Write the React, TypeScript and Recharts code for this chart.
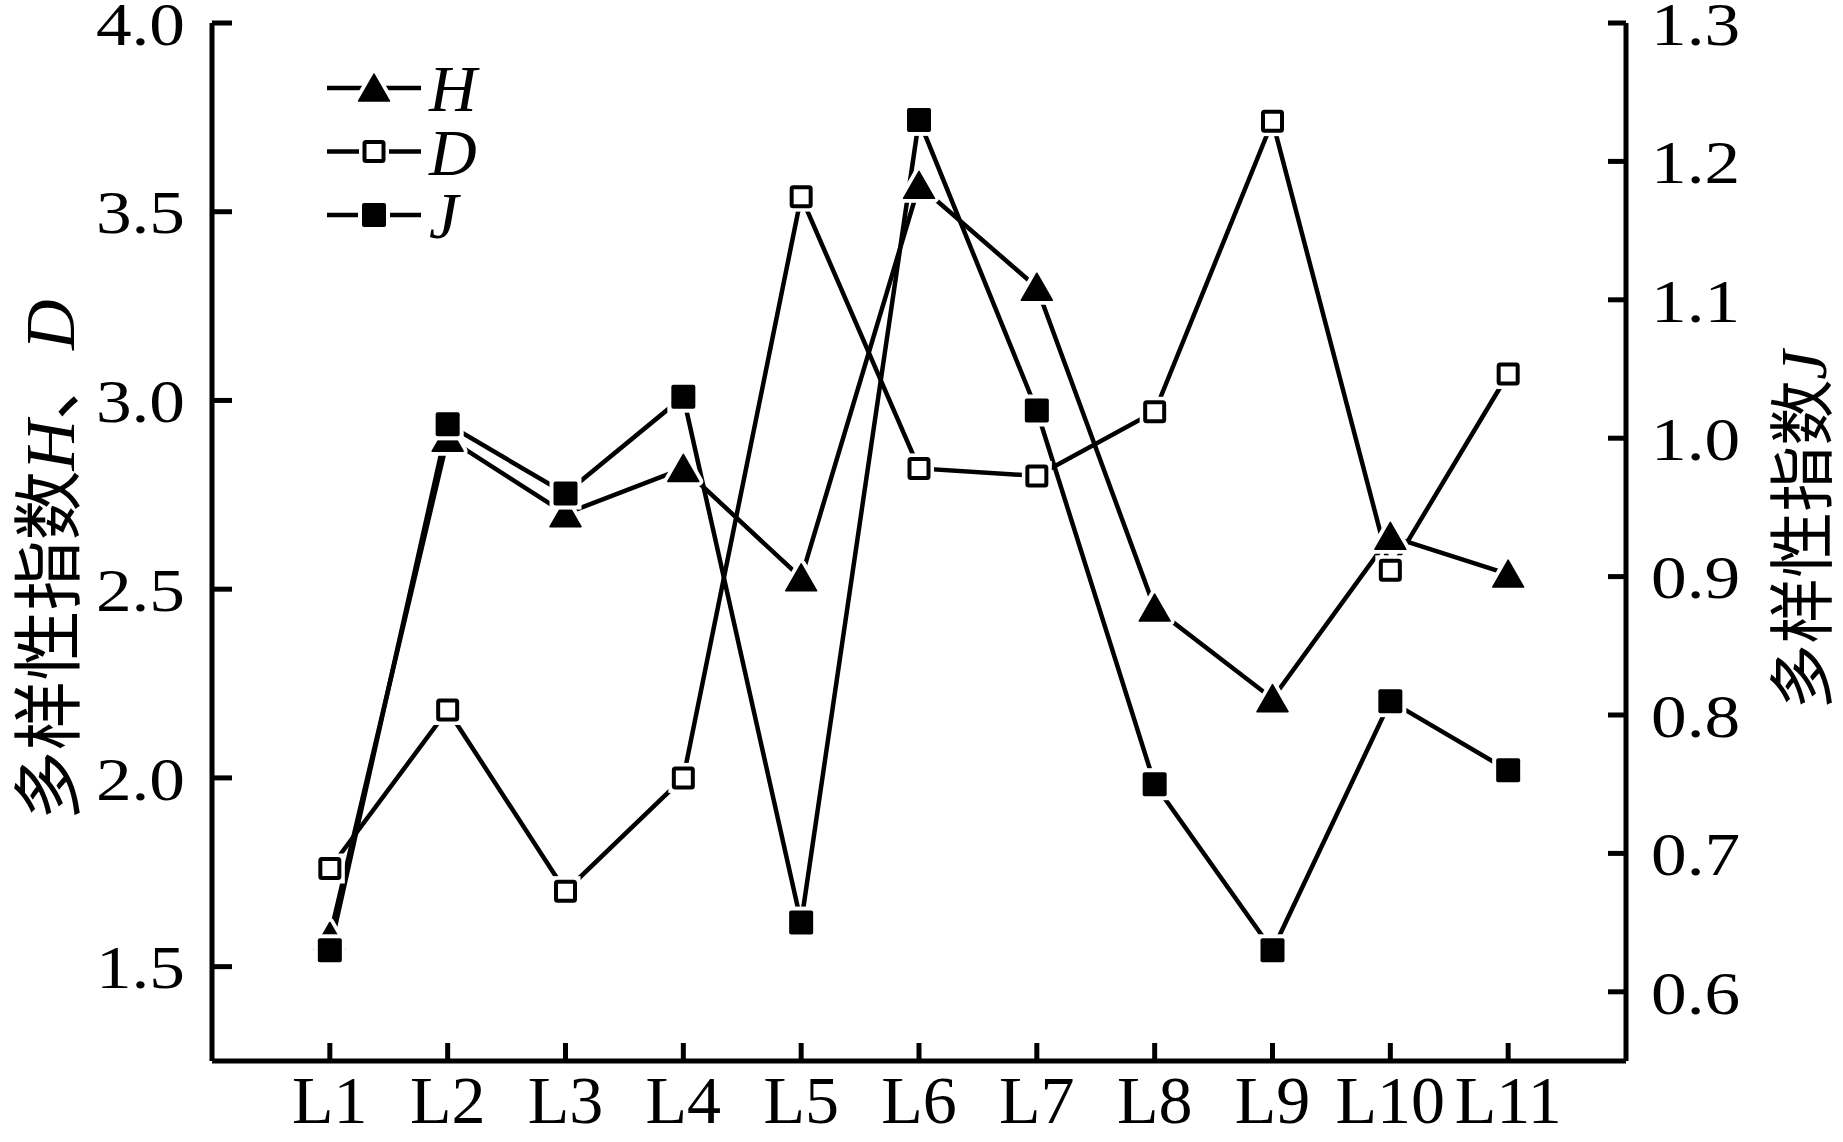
import React from 'react';
import { LineChart, Line, XAxis, YAxis } from 'recharts';

// sampling sites and diversity indices
const sites = ['L1', 'L2', 'L3', 'L4', 'L5', 'L6', 'L7', 'L8', 'L9', 'L10', 'L11'];
const hValues = [1.58, 2.9, 2.7, 2.82, 2.53, 3.57, 3.3, 2.45, 2.21, 2.64, 2.54];
const dValues = [1.76, 2.18, 1.7, 2.0, 3.54, 2.82, 2.8, 2.97, 3.74, 2.55, 3.07];
const jValues = [0.63, 1.01, 0.96, 1.03, 0.65, 1.23, 1.02, 0.75, 0.63, 0.81, 0.76];
const leftTicks = [1.5, 2.0, 2.5, 3.0, 3.5, 4.0];
const rightTicks = [0.6, 0.7, 0.8, 0.9, 1.0, 1.1, 1.2, 1.3];
const xTicks = sites.map((_, i) => i + 1);

const data = sites.map((site, i) => ({
  x: i + 1,
  site,
  H: hValues[i],
  D: dValues[i],
  J: jValues[i],
}));

const SERIF = '"Liberation Serif", "Times New Roman", serif';
const TITLE_FONT = '"Liberation Serif", "Noto Sans CJK SC", serif';
const AXIS = { stroke: '#000', strokeWidth: 5 };

const NumTick = (props: any) => {
  const { x, y, payload, textAnchor } = props;
  return (
    <g transform={`translate(${x},${y}) scale(1.15,1)`}>
      <text x={0} y={0} dy="0.35em" textAnchor={textAnchor} fontFamily={SERIF} fontSize={62} fill="#000">
        {Number(payload.value).toFixed(1)}
      </text>
    </g>
  );
};

const SiteTick = (props: any) => {
  const { x, y, payload } = props;
  return (
    <text x={x} y={y} dy="0.71em" textAnchor="middle" fontFamily={SERIF} fontSize={68} fill="#000">
      {sites[payload.value - 1]}
    </text>
  );
};

const triPoints = (cx: number, cy: number) =>
  `${cx},${cy - 14} ${cx + 15.5},${cy + 13} ${cx - 15.5},${cy + 13}`;

const TriangleDot = (props: any) => {
  const { cx, cy } = props;
  if (cx == null || cy == null) return null;
  const pts = triPoints(cx, cy);
  return (
    <g>
      <polygon points={pts} fill="#fff" stroke="#fff" strokeWidth={9} strokeLinejoin="round" />
      <polygon points={pts} fill="#000" stroke="#000" strokeWidth={1.5} strokeLinejoin="round" />
    </g>
  );
};

const OpenSquareDot = (props: any) => {
  const { cx, cy } = props;
  if (cx == null || cy == null) return null;
  return (
    <g>
      <rect x={cx - 15} y={cy - 15} width={30} height={30} fill="#fff" />
      <rect x={cx - 9.5} y={cy - 9.5} width={19} height={19} fill="#fff" stroke="#000" strokeWidth={4} rx={1.5} />
    </g>
  );
};

const FilledSquareDot = (props: any) => {
  const { cx, cy } = props;
  if (cx == null || cy == null) return null;
  return (
    <g>
      <rect x={cx - 16} y={cy - 16} width={32} height={32} fill="#fff" />
      <rect x={cx - 12} y={cy - 12} width={24} height={24} fill="#000" rx={2} />
    </g>
  );
};

const LeftTitle = () => (
  <text
    transform="translate(50,560) rotate(-90)"
    textAnchor="middle"
    dominantBaseline="central"
    fontFamily={TITLE_FONT}
    fontSize={70}
    fill="#000"
  >
    多样性指数<tspan fontStyle="italic">H</tspan>、<tspan fontStyle="italic">D</tspan>
  </text>
);

const RightTitle = () => (
  <text
    transform="translate(1803,530) rotate(-90)"
    textAnchor="middle"
    dominantBaseline="central"
    fontFamily={TITLE_FONT}
    fontSize={66}
    fill="#000"
  >
    多样性指数<tspan fontStyle="italic">J</tspan>
  </text>
);

const legendRows = [
  { name: 'H', Dot: TriangleDot },
  { name: 'D', Dot: OpenSquareDot },
  { name: 'J', Dot: FilledSquareDot },
];

const LegendBox = () => (
  <svg width={220} height={280} style={{ position: 'absolute', left: 320, top: 26 }}>
    {legendRows.map((row, i) => {
      const y = 62 + i * 63.5;
      return (
        <g key={row.name}>
          <line x1={7} x2={101} y1={y} y2={y} stroke="#000" strokeWidth={4.5} />
          <row.Dot cx={54} cy={y} />
          <text x={109} y={y} dy="0.35em" fontFamily={SERIF} fontStyle="italic" fontSize={66} fill="#000">
            {row.name}
          </text>
        </g>
      );
    })}
  </svg>
);

export default function App() {
  return (
    <div style={{ position: 'absolute', left: 0, top: 0, width: 1843, height: 1142, background: '#fff' }}>
      <LineChart width={1843} height={1142} data={data} margin={{ top: 23, right: 67, bottom: 21, left: 62 }}>
        <XAxis
          dataKey="x"
          type="number"
          domain={[0, 12]}
          ticks={xTicks}
          interval={0}
          height={60}
          axisLine={AXIS}
          tickLine={AXIS}
          tickSize={-18}
          tickMargin={32}
          tick={<SiteTick />}
        />
        <YAxis
          yAxisId="left"
          domain={[1.25, 4.0]}
          ticks={leftTicks}
          interval={0}
          allowDataOverflow
          width={150}
          axisLine={AXIS}
          tickLine={AXIS}
          tickSize={-20}
          tickMargin={47}
          tick={<NumTick />}
          label={<LeftTitle />}
        />
        <YAxis
          yAxisId="right"
          orientation="right"
          domain={[0.55, 1.3]}
          ticks={rightTicks}
          interval={0}
          allowDataOverflow
          width={150}
          axisLine={AXIS}
          tickLine={AXIS}
          tickSize={-18}
          tickMargin={43}
          tick={<NumTick />}
          label={<RightTitle />}
        />
        <Line yAxisId="left" dataKey="H" type="linear" stroke="#000" strokeWidth={4.5} dot={<TriangleDot />} isAnimationActive={false} />
        <Line yAxisId="left" dataKey="D" type="linear" stroke="#000" strokeWidth={4.5} dot={<OpenSquareDot />} isAnimationActive={false} />
        <Line yAxisId="right" dataKey="J" type="linear" stroke="#000" strokeWidth={4.5} dot={<FilledSquareDot />} isAnimationActive={false} />
      </LineChart>
      <LegendBox />
    </div>
  );
}
